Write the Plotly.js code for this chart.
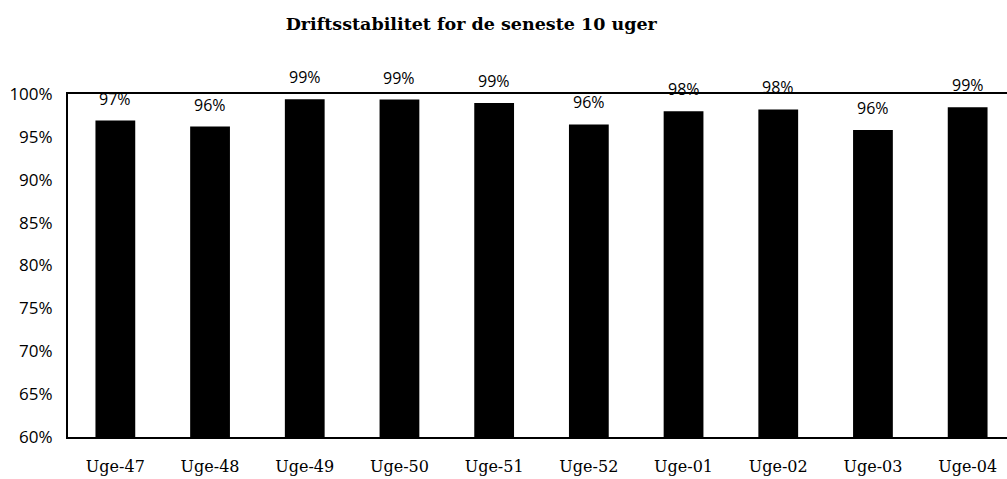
<!DOCTYPE html>
<html>
<head>
<meta charset="utf-8">
<script src="https://cdn.plot.ly/plotly-3.0.1.min.js"></script>
<style>
html,body{margin:0;padding:0;overflow:hidden;background:#fff;}
#chart{width:1020px;height:479px;}
</style>
</head>
<body>
<div id="chart"></div>
<script>
var weeks = ["Uge-47","Uge-48","Uge-49","Uge-50","Uge-51","Uge-52","Uge-01","Uge-02","Uge-03","Uge-04"];
var stability = [96.9, 96.2, 99.4, 99.35, 98.95, 96.45, 98.0, 98.2, 95.8, 98.45];
var labels = ["97%","96%","99%","99%","99%","96%","98%","98%","96%","99%"];
var yTicks = [60,65,70,75,80,85,90,95,100];
var yTickText = ["60%","65%","70%","75%","80%","85%","90%","95%","100%"];

var trace = {
  type: 'bar',
  x: weeks,
  y: stability,
  marker: {color: '#000000', line: {width: 0}},
  hoverinfo: 'none'
};

var annotations = weeks.map(function(w, i){
  return {
    x: w, y: stability[i], xref: 'x', yref: 'y',
    text: labels[i], showarrow: false,
    yanchor: 'bottom', yshift: 9,
    font: {family: 'Open Sans, sans-serif', size: 16, color: '#000'}
  };
});

var layout = {
  width: 1020, height: 479,
  margin: {l: 68, r: 5, t: 94, b: 42},
  paper_bgcolor: '#fff', plot_bgcolor: '#fff',
  bargap: 0.58,
  showlegend: false,
  title: {
    text: '<b>Driftsstabilitet for de seneste 10 uger</b>',
    font: {family: 'DejaVu Serif, serif', size: 17.5, color: '#000'},
    xref: 'container', x: 0.462, xanchor: 'center',
    yref: 'container', y: 0.95, yanchor: 'middle'
  },
  xaxis: {
    type: 'category',
    showline: true, linecolor: '#000', linewidth: 2, mirror: true,
    showgrid: false, ticks: '',
    ticklabelstandoff: 14,
    tickfont: {family: 'DejaVu Serif, serif', size: 16, color: '#000'}
  },
  yaxis: {
    range: [60, 100],
    tickvals: yTicks, ticktext: yTickText,
    showline: true, linecolor: '#000', linewidth: 2,
    showgrid: false, zeroline: false, ticks: '',
    ticklabelstandoff: 10,
    tickfont: {family: 'Open Sans, sans-serif', size: 17, color: '#000'}
  },
  annotations: annotations
};

Plotly.newPlot('chart', [trace], layout, {staticPlot: true, displayModeBar: false});
</script>
</body>
</html>
